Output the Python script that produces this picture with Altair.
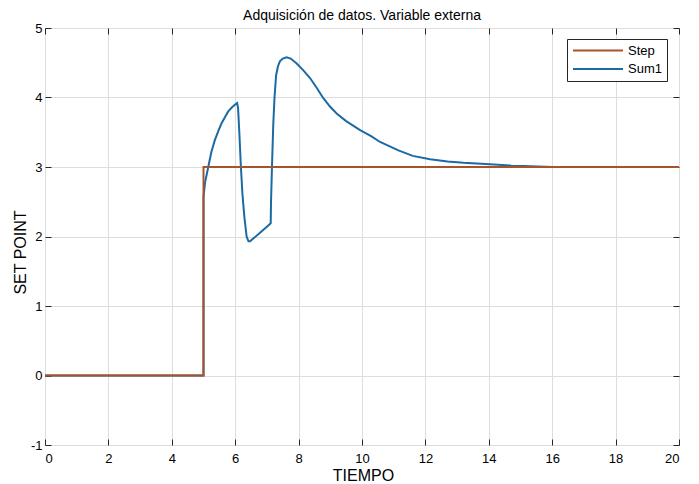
import altair as alt
import pandas as pd

# ---- data ----
step_x = [0, 5, 5, 20]
step_y = [0, 0, 3, 3]

sum1_x = [0, 5, 5.0, 5.05, 5.15, 5.25, 5.36, 5.47, 5.57, 5.68, 5.78, 5.9, 6.0, 6.06,
          6.09, 6.13, 6.18, 6.23, 6.29, 6.36, 6.42, 6.47, 6.57, 6.8, 7.0, 7.12,
          7.13, 7.16, 7.2, 7.24, 7.29, 7.35, 7.41, 7.5, 7.62, 7.75, 7.94, 8.15,
          8.36, 8.57, 8.78, 8.99, 9.2, 9.5, 9.94, 10.3, 10.57, 11.15, 11.6, 12.15,
          12.7, 13.2, 14.04, 14.7, 15.3, 16, 20]
sum1_y = [0, 0, 2.57, 2.78, 3.0, 3.22, 3.39, 3.52, 3.63, 3.72, 3.80, 3.86, 3.90, 3.92,
          3.85, 3.5, 3.0, 2.6, 2.28, 2.0, 1.93, 1.93, 1.97, 2.06, 2.14, 2.19,
          2.5, 3.0, 3.6, 4.0, 4.32, 4.45, 4.52, 4.56, 4.58, 4.56, 4.49, 4.39,
          4.28, 4.14, 3.99, 3.87, 3.77, 3.66, 3.53, 3.44, 3.36, 3.24, 3.16, 3.11,
          3.08, 3.06, 3.04, 3.02, 3.01, 3.0, 3.0]

series_names = ["Step", "Sum1"]
series_colors = ["#a8532b", "#1c6aa3"]
x_ticks = list(range(0, 21, 2))
y_ticks = list(range(-1, 6))

df_step = pd.DataFrame({"t": step_x, "v": step_y, "s": "Step", "o": range(len(step_x))})
df_sum = pd.DataFrame({"t": sum1_x, "v": sum1_y, "s": "Sum1", "o": range(len(sum1_x))})

FONT = "Liberation Sans"
INK = "#262626"

xscale = alt.Scale(domain=[0, 20], nice=False, zero=False)
yscale = alt.Scale(domain=[-1, 5], nice=False, zero=False)

color = alt.Color(
    "s:N",
    scale=alt.Scale(domain=series_names, range=series_colors),
    legend=alt.Legend(
        title=None, orient="none", legendX=522, legendY=11,
        symbolType="stroke", symbolSize=2500, symbolStrokeWidth=2,
        clipHeight=13, rowPadding=4.5, labelOffset=4,
        labelFont=FONT, labelFontSize=13, labelColor="black",
        fillColor="white", strokeColor=INK, padding=5, cornerRadius=0,
    ),
)

main_x_axis = alt.Axis(
    orient="bottom", values=x_ticks, grid=True, gridColor="#dedede", gridWidth=1,
    ticks=False, tickSize=0, domain=False, labelPadding=7,
    labelFont=FONT, labelFontSize=13, labelColor="black",
    title="TIEMPO", titleFont=FONT, titleFontSize=16, titleFontWeight="normal",
    titleColor="black", titleBaseline="alphabetic", titleY=35, titleX=318,
)
main_y_axis = alt.Axis(
    orient="left", values=y_ticks, grid=True, gridColor="#dedede", gridWidth=1,
    ticks=False, tickSize=0, domain=False, labelPadding=3,
    labelExpr="toString(datum.value)",
    labelFont=FONT, labelFontSize=13, labelColor="black",
    title="SET POINT", titleFont=FONT, titleFontSize=16, titleFontWeight="normal",
    titleColor="black", titleAngle=-90, titleBaseline="middle", titleAlign="center",
    titleX=-25, titleY=224,
)


def tick_axis(orient, vals):
    return alt.Axis(orient=orient, values=vals, offset=-6, tickSize=6, tickColor=INK,
                    tickWidth=1, labels=False, domain=False, grid=False, title=None)


sum_layer = alt.Chart(df_sum).mark_line(strokeWidth=2).encode(
    x=alt.X("t:Q", scale=xscale, axis=main_x_axis),
    y=alt.Y("v:Q", scale=yscale, axis=main_y_axis),
    order="o:Q",
    color=color,
)

step_layer = alt.Chart(df_step).mark_line(strokeWidth=2).encode(
    x=alt.X("t:Q", scale=xscale, axis=tick_axis("top", x_ticks)),
    y=alt.Y("v:Q", scale=yscale, axis=tick_axis("right", y_ticks)),
    order="o:Q",
    color=color,
)

tick_layer = alt.Chart(df_step).mark_line(strokeWidth=0, opacity=0).encode(
    x=alt.X("t:Q", scale=xscale, axis=tick_axis("bottom", x_ticks)),
    y=alt.Y("v:Q", scale=yscale, axis=tick_axis("left", y_ticks)),
    order="o:Q",
)

chart = alt.layer(sum_layer, step_layer, tick_layer).resolve_scale(
    x="shared", y="shared"
).resolve_axis(
    x="independent", y="independent"
).properties(
    width=634, height=417,
    title=alt.TitleParams("Adquisición de datos. Variable externa", font=FONT,
                          fontSize=14, fontWeight="normal", color="black",
                          anchor="middle", offset=3, dy=4),
    autosize=alt.AutoSizeParams(type="none"),
    padding={"left": 37, "top": 20, "right": 12, "bottom": 40},
).configure_view(
    stroke=INK, strokeWidth=1
).configure(background="white")

chart.save("out.html", embed_options={"renderer": "svg", "actions": False})
